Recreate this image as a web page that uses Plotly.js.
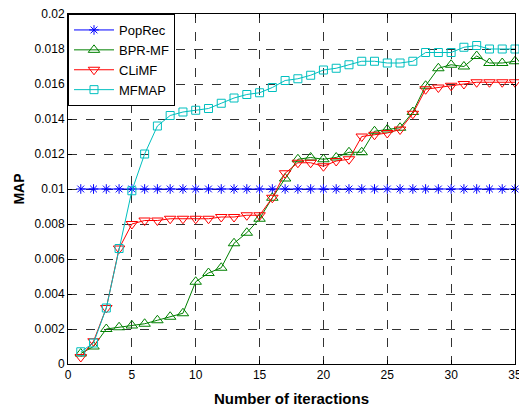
<!DOCTYPE html>
<html><head><meta charset="utf-8">
<script src="https://cdn.plot.ly/plotly-3.0.1.min.js"></script>
<style>html,body{margin:0;padding:0;background:#fff}#chart{width:519px;height:416px}</style>
</head><body><div id="chart"></div>
<script>
const iterations = [1,2,3,4,5,6,7,8,9,10,11,12,13,14,15,16,17,18,19,20,21,22,23,24,25,26,27,28,29,30,31,32,33,34,35];
const popRec = [0.01,0.01,0.01,0.01,0.01,0.01,0.01,0.01,0.01,0.01,0.01,0.01,0.01,0.01,0.01,0.01,0.01,0.01,0.01,0.01,0.01,0.01,0.01,0.01,0.01,0.01,0.01,0.01,0.01,0.01,0.01,0.01,0.01,0.01,0.01];
const bprMF = [0.0006,0.0010,0.0020,0.0021,0.0022,0.0023,0.0025,0.0027,0.0029,0.0047,0.0052,0.0055,0.0069,0.0075,0.0083,0.0095,0.0106,0.0117,0.0118,0.0117,0.0118,0.0121,0.0121,0.0133,0.0134,0.0135,0.0144,0.0159,0.0169,0.0171,0.0170,0.0176,0.0172,0.0172,0.0173];
const cliMF = [0.0004,0.0013,0.0032,0.0066,0.0080,0.0082,0.0082,0.0083,0.0083,0.0083,0.0083,0.0084,0.0084,0.0085,0.0085,0.0095,0.0109,0.0115,0.0115,0.0113,0.0116,0.0117,0.0130,0.0131,0.0132,0.0134,0.0143,0.0157,0.0158,0.0159,0.0160,0.0161,0.0161,0.0161,0.0161];
const mfMAP = [0.0007,0.0012,0.0032,0.0066,0.0099,0.0120,0.0136,0.0142,0.0144,0.0145,0.0146,0.0149,0.0152,0.0154,0.0155,0.0158,0.0162,0.0163,0.0165,0.0168,0.0169,0.0171,0.0173,0.0173,0.0172,0.0172,0.0173,0.0178,0.0178,0.0178,0.0181,0.0182,0.0180,0.0180,0.0180];
const seriesNames = ['PopRec','BPR-MF','CLiMF','MFMAP'];
const yTickVals = [0,0.002,0.004,0.006,0.008,0.01,0.012,0.014,0.016,0.018,0.02];
const yTickText = ['0','0.002','0.004','0.006','0.008','0.01','0.012','0.014','0.016','0.018','0.02'];
const xTickVals = [0,5,10,15,20,25,30,35];

const mk = (name, y, color, symbol, size) => ({
  x: iterations, y: y, name: name, type: 'scatter', mode: 'lines+markers', cliponaxis: false,
  line: {color: color, width: 1},
  marker: {symbol: symbol, size: size, color: color, line: {color: color, width: 1}}
});
const data = [
  mk(seriesNames[0], popRec, '#0000ff', 'asterisk-open', 8),
  mk(seriesNames[1], bprMF, '#008000', 'triangle-up-open', 10),
  mk(seriesNames[2], cliMF, '#ff0000', 'triangle-down-open', 10),
  mk(seriesNames[3], mfMAP, '#00bfbf', 'square-open', 8)
];
const axisCommon = {
  showline: true, linecolor: '#000', linewidth: 1, mirror: 'ticks',
  ticks: 'inside', ticklen: 4, tickcolor: '#000', ticklabeloverflow: 'allow',
  showgrid: true, gridcolor: '#333', griddash: 'dash', gridwidth: 1,
  zeroline: false, tickfont: {family: 'Liberation Sans, Arial, sans-serif', size: 12, color: '#000'}
};
const layout = {
  width: 519, height: 416,
  margin: {l: 68, r: 4, t: 14, b: 52},
  paper_bgcolor: '#fff', plot_bgcolor: '#fff',
  font: {family: 'Liberation Sans, Arial, sans-serif', color: '#000'},
  xaxis: Object.assign({}, axisCommon, {
    range: [0, 35.0001], tickvals: xTickVals,
    title: {text: '<b>Number of iteractions</b>', font: {size: 15}, standoff: 12}
  }),
  yaxis: Object.assign({}, axisCommon, {
    range: [0, 0.0200001], tickvals: yTickVals, ticktext: yTickText,
    title: {text: '<b>MAP</b>', font: {size: 14}, standoff: 6}
  }),
  legend: {
    x: 0, y: 1, xanchor: 'left', yanchor: 'top',
    bgcolor: '#fff', bordercolor: '#000', borderwidth: 1,
    font: {size: 13, family: 'Liberation Sans, Arial, sans-serif'},
    tracegroupgap: 0, itemwidth: 40
  },
  showlegend: true
};
Plotly.newPlot('chart', data, layout, {displayModeBar: false, staticPlot: true});
</script>
</body></html>
